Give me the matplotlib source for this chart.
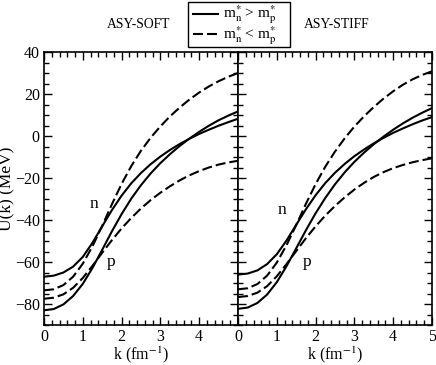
import matplotlib
matplotlib.use("Agg")
import matplotlib.pyplot as plt
from matplotlib.ticker import MultipleLocator
from matplotlib.lines import Line2D
from matplotlib.patches import Rectangle

plt.rcParams['font.family'] = ['Liberation Serif', 'DejaVu Serif']
plt.rcParams['mathtext.fontset'] = 'stix'

k = [0.0, 0.25, 0.5, 0.75, 1.0, 1.25, 1.5, 1.75, 2.0, 2.25, 2.5,
     2.75, 3.0, 3.25, 3.5, 3.75, 4.0, 4.25, 4.5, 4.75, 5.0]

# ASY-SOFT
soft_solid_n = [-67.0, -66.5, -65.0, -62.2, -57.6, -50.8, -43.0, -35.3, -28.4, -22.5, -17.6,
                -13.4, -9.8, -6.6, -3.8, -1.3, 1.0, 3.0, 4.9, 6.6, 8.2]
soft_solid_p = [-83.0, -82.4, -80.2, -76.2, -70.4, -62.8, -54.2, -45.4, -37.2, -29.8, -23.4,
                -17.8, -12.9, -8.6, -4.7, -1.2, 2.0, 4.9, 7.5, 9.7, 11.7]
soft_dash_n = [-73.5, -73.0, -71.0, -67.0, -60.8, -52.5, -42.8, -32.5, -22.8, -14.3, -7.0,
               -0.8, 4.6, 9.4, 13.6, 17.4, 20.7, 23.6, 26.1, 28.2, 30.0]
soft_dash_p = [-77.5, -77.0, -75.4, -72.3, -67.6, -61.8, -55.6, -49.6, -44.0, -39.0, -34.5,
               -30.5, -27.0, -23.9, -21.1, -18.7, -16.7, -15.0, -13.6, -12.6, -11.8]

# ASY-STIFF
stiff_solid_n = [-66.0, -65.5, -64.0, -61.0, -56.3, -49.8, -42.3, -34.9, -28.2, -22.4, -17.5,
                 -13.3, -9.6, -6.4, -3.5, -0.9, 1.5, 3.6, 5.6, 7.4, 9.0]
stiff_solid_p = [-82.3, -81.7, -79.5, -75.5, -69.6, -62.0, -53.5, -44.9, -36.8, -29.5, -23.0,
                 -17.3, -12.3, -7.9, -3.9, -0.3, 3.0, 6.0, 8.7, 11.1, 13.3]
stiff_dash_n = [-73.0, -72.5, -70.5, -66.5, -60.3, -52.0, -42.4, -32.3, -22.9, -14.6, -7.4,
                -1.1, 4.5, 9.4, 13.8, 17.8, 21.3, 24.4, 27.0, 29.1, 30.8]
stiff_dash_p = [-76.7, -76.2, -74.6, -71.5, -66.8, -61.0, -54.8, -48.7, -43.0, -37.9, -33.3,
                -29.2, -25.5, -22.3, -19.5, -17.2, -15.3, -13.8, -12.5, -11.5, -10.6]

panel_titles = ["ASY-SOFT", "ASY-STIFF"]
legend_labels = [r"m$^{*}_{\mathrm{n}}$ > m$^{*}_{\mathrm{p}}$",
                 r"m$^{*}_{\mathrm{n}}$ < m$^{*}_{\mathrm{p}}$"]
ylabel = "U(k) (MeV)"
xlabel = r"k (fm$^{\mathrm{-1}}$)"
curve_labels = ["n", "p"]

W, H = 436, 365
fig = plt.figure(figsize=(W / 100, H / 100), dpi=100)

def fx(px):
    return px / W

def fy(py):
    return 1 - py / H

x0, xm, x1 = 44, 238, 432
ytop, ybot = 52, 325
axL = fig.add_axes([fx(x0), fy(ybot), fx(xm - x0), fy(ytop) - fy(ybot)])
axR = fig.add_axes([fx(xm), fy(ybot), fx(x1 - xm), fy(ytop) - fy(ybot)])

dash = (0, (4.8, 1.9))
lw = 1.5
datasets = [(axL, soft_solid_n, soft_solid_p, soft_dash_n, soft_dash_p),
            (axR, stiff_solid_n, stiff_solid_p, stiff_dash_n, stiff_dash_p)]
for ax, sn, sp, dn, dp in datasets:
    ax.plot(k, sn, color='black', lw=lw)
    ax.plot(k, sp, color='black', lw=lw)
    ax.plot(k, dn, color='black', lw=lw, linestyle=dash)
    ax.plot(k, dp, color='black', lw=lw, linestyle=dash)
    ax.set_xlim(0, 5)
    ax.set_ylim(-90, 40)
    ax.xaxis.set_major_locator(MultipleLocator(1))
    ax.xaxis.set_minor_locator(MultipleLocator(0.2))
    ax.yaxis.set_major_locator(MultipleLocator(20))
    ax.yaxis.set_minor_locator(MultipleLocator(5))
    ax.tick_params(which='both', direction='in', top=True, right=True,
                   labelsize=11.5, width=1.0, color='black')
    ax.tick_params(axis='x', pad=3)
    ax.tick_params(axis='y', pad=3)
    ax.tick_params(which='major', length=6)
    ax.tick_params(which='minor', length=3.5)
    for s in ax.spines.values():
        s.set_linewidth(1.2)
    ax.set_xlabel(xlabel, fontsize=11.5)
    ax.xaxis.set_label_coords(0.5, -(344 - ybot) / (ybot - ytop))

axL.set_xticks([0, 1, 2, 3, 4, 5])
axL.set_xticklabels(["0", "1", "2", "3", "4", ""])
axL.set_yticks([-80, -60, -40, -20, 0, 20, 40])
axL.set_ylabel(ylabel, fontsize=12.5, labelpad=0)
axR.set_yticklabels([])

axL.text(1.30, -32.2, curve_labels[0], fontsize=12.5, ha='center', va='center')
axL.text(1.74, -60.0, curve_labels[1], fontsize=12.5, ha='center', va='center')
axR.text(1.14, -35.4, curve_labels[0], fontsize=12.5, ha='center', va='center')
axR.text(1.77, -60.0, curve_labels[1], fontsize=12.5, ha='center', va='center')

fig.text(fx(139), fy(25), panel_titles[0], fontsize=9.8, ha='center', va='center')
fig.text(fx(337), fy(25), panel_titles[1], fontsize=9.8, ha='center', va='center')

# legend box drawn by hand in pixel coordinates
fig.patches.append(Rectangle((fx(188), fy(47)), fx(290) - fx(188), fy(2) - fy(47),
                             transform=fig.transFigure, fill=False,
                             edgecolor='black', lw=1.0))
fig.lines.append(Line2D([fx(193), fx(218)], [fy(13.5), fy(13.5)],
                        transform=fig.transFigure, color='black', lw=lw))
fig.lines.append(Line2D([fx(193), fx(218)], [fy(34), fy(34)],
                        transform=fig.transFigure, color='black', lw=lw, linestyle=dash))
fig.text(fx(223), fy(15), legend_labels[0], fontsize=11, ha='left', va='center')
fig.text(fx(223), fy(35.5), legend_labels[1], fontsize=11, ha='left', va='center')

fig.savefig("out.png", dpi=100)
